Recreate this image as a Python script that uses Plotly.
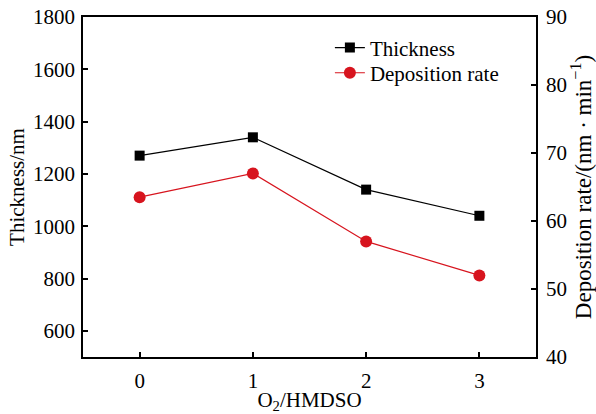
import plotly.graph_objects as go

ratio = [0, 1, 2, 3]
thickness = [1270, 1340, 1140, 1040]
dep_rate = [63.5, 67.0, 57.0, 52.0]

font = "Liberation Serif, Times New Roman, serif"
FS = 21

fig = go.Figure()
fig.add_trace(go.Scatter(
    x=ratio, y=thickness, name="Thickness", mode="lines+markers", legend="legend",
    line=dict(color="black", width=1.2),
    marker=dict(symbol="square", size=10, color="black"),
))
fig.add_trace(go.Scatter(
    x=ratio, y=dep_rate, name="Deposition rate", mode="lines+markers", yaxis="y2", legend="legend2",
    line=dict(color="#d7141e", width=1.2),
    marker=dict(symbol="circle", size=12, color="#d7141e"),
))

axcommon = dict(showgrid=False, zeroline=False, showline=True, linecolor="black",
                linewidth=1.5, ticks="inside", ticklen=5, tickwidth=1.5, tickcolor="black",
                automargin=False,
                tickfont=dict(family=font, size=FS, color="black"))

legcommon = dict(x=0.545, xanchor="left", yanchor="middle", bgcolor="rgba(0,0,0,0)",
                 font=dict(family=font, size=FS), itemwidth=30)

fig.update_layout(
    width=596, height=414,
    margin=dict(l=83, r=60, t=17, b=57),
    paper_bgcolor="white", plot_bgcolor="white",
    font=dict(family=font, size=FS, color="black"),
    showlegend=True,
    legend=dict(y=0.909, **legcommon),
    legend2=dict(y=0.835, **legcommon),
    xaxis=dict(range=[-0.5, 3.5], tickvals=ratio, mirror=True, ticklabelstandoff=4,
               title=dict(text="O<sub>2</sub>/HMDSO", font=dict(family=font, size=FS), standoff=7),
               **axcommon),
    yaxis=dict(range=[500, 1800], tickvals=[600, 800, 1000, 1200, 1400, 1600, 1800],
               ticklabelstandoff=2,
               title=dict(text="Thickness/nm", font=dict(family=font, size=FS), standoff=3),
               **axcommon),
    yaxis2=dict(range=[40, 90], tickvals=[40, 50, 60, 70, 80, 90], overlaying="y", side="right",
                ticklabelstandoff=4,
                title=dict(text="Deposition rate/(nm · min<sup>−1</sup>)", font=dict(family=font, size=23), standoff=7),
                **axcommon),
)

fig.write_html("out.html")
